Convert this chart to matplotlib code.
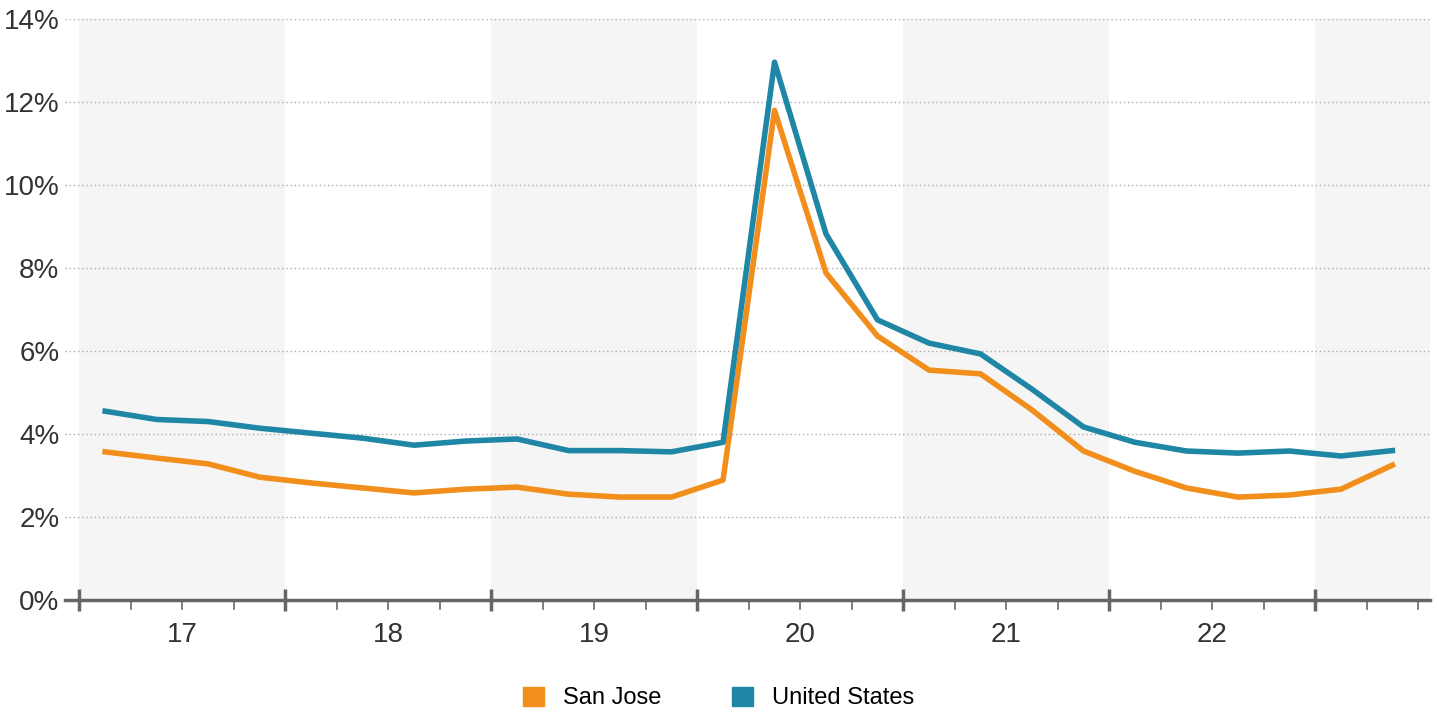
import matplotlib
matplotlib.use("Agg")
import matplotlib.pyplot as plt
import numpy as np
from matplotlib.patches import Patch

plt.rcParams['font.family'] = ['Liberation Sans', 'DejaVu Sans']

years = ["17", "18", "19", "20", "21", "22"]
us = [4.55, 4.35, 4.3, 4.14, 4.02, 3.9, 3.73, 3.83, 3.88, 3.6, 3.6, 3.57, 3.8,
      12.96, 8.82, 6.75, 6.19, 5.93, 5.08, 4.17, 3.8, 3.59, 3.54, 3.59, 3.47, 3.6]
sj = [3.57, 3.42, 3.28, 2.96, 2.82, 2.7, 2.58, 2.67, 2.72, 2.55, 2.48, 2.48, 2.89,
      11.8, 7.88, 6.36, 5.54, 5.45, 4.58, 3.59, 3.1, 2.7, 2.48, 2.53, 2.67, 3.25]

fig = plt.figure(figsize=(14.37, 7.14), dpi=100)
ax = fig.add_axes([65/1437, 1-600/714, (1430-65)/1437, (600-19)/714])
x = np.arange(len(us))
for k in range(7):
    if k % 2 == 0:
        ax.axvspan(4*k-0.5, 4*k+3.5, color="#f5f5f5", lw=0, zorder=0)
ax.plot(x, sj, color="#f28e1c", lw=4, zorder=3, label="San Jose")
ax.plot(x, us, color="#1f86a5", lw=4, zorder=3, label="United States")
ax.set_xlim(-0.78, 25.73)
ax.set_ylim(0, 14)
ax.set_yticks(range(0, 15, 2))
ax.set_yticklabels([f"{v}%" for v in range(0, 15, 2)], fontsize=20, color="#333333")
ax.yaxis.grid(True, linestyle=(0, (1, 2)), color="#aaaaaa", lw=1)
ax.set_axisbelow(True)
ax.tick_params(axis="y", length=0, pad=4)
ax.set_xticks([4*k-0.5 for k in range(7)])
ax.set_xticklabels([])
ax.set_xticks([4*k+1.5 for k in range(6)], minor=True)
ax.set_xticklabels(years, minor=True, fontsize=20, color="#333333")
ax.tick_params(axis="x", which="major", length=16, width=2.5, color="#666666", direction="inout")
ax.tick_params(axis="x", which="minor", length=0, pad=16)
qticks = [i + 0.5 for i in range(-1, 26) if (i + 1) % 4 != 0 and -0.78 < i + 0.5 < 25.73]
for t in qticks:
    ax.plot([t, t], [0, -0.22], color="#666666", lw=1.2, clip_on=False, zorder=4)
for s in ["top", "right", "left"]:
    ax.spines[s].set_visible(False)
ax.spines["bottom"].set_color("#666666")
ax.spines["bottom"].set_linewidth(2.5)
handles = [Patch(color="#f28e1c", label="San Jose"), Patch(color="#1f86a5", label="United States")]
fig.legend(handles=handles, loc="center", bbox_to_anchor=(0.5, 1-698/714), ncol=2, frameon=False,
           fontsize=17, handlelength=0.9, handleheight=0.9, columnspacing=3)
fig.savefig("out.png", dpi=100)
